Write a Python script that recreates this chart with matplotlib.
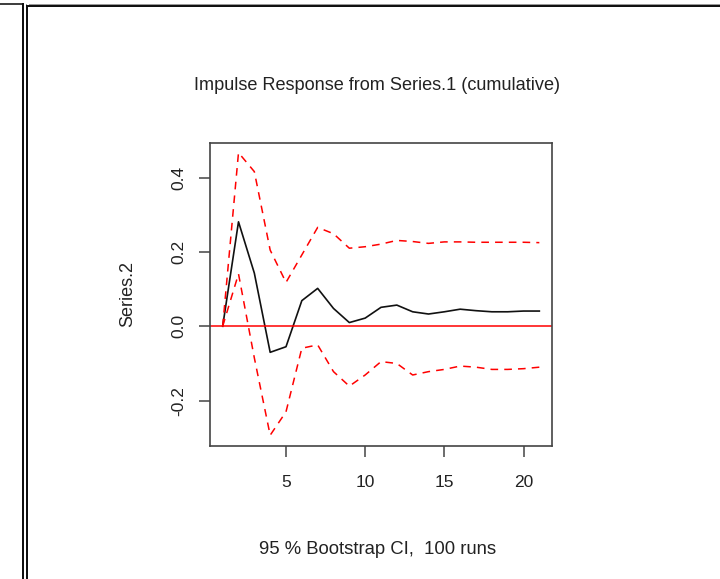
import numpy as np
import matplotlib.pyplot as plt
from matplotlib.lines import Line2D

# steps of the impulse response
steps = list(range(1, 22))

irf = [0.0, 0.281, 0.143, -0.070, -0.055, 0.069, 0.102, 0.048, 0.010, 0.022, 0.051,
       0.057, 0.039, 0.033, 0.039, 0.046, 0.042, 0.039, 0.039, 0.041, 0.041]
upper = [0.0, 0.467, 0.416, 0.205, 0.118, 0.192, 0.266, 0.249, 0.210, 0.214, 0.221,
         0.231, 0.228, 0.223, 0.227, 0.227, 0.226, 0.226, 0.226, 0.226, 0.225]
lower = [0.0, 0.141, -0.085, -0.293, -0.230, -0.059, -0.050, -0.122, -0.161, -0.131, -0.095,
         -0.100, -0.131, -0.122, -0.116, -0.107, -0.110, -0.116, -0.116, -0.114, -0.110]

plt.rcParams['font.family'] = ['Liberation Sans', 'DejaVu Sans']
txt = '#222222'

W, H = 720, 579
fig = plt.figure(figsize=(W / 100, H / 100), dpi=100)

# axes box in pixels: left 210, right 552, top 143, bottom 446
ax = fig.add_axes([210 / W, (H - 446) / H, 342 / W, 303 / H])
ax.plot(steps, irf, color='#111111', lw=1.2)
ax.plot(steps, upper, color='red', lw=1.1, ls=(0, (5, 4)))
ax.plot(steps, lower, color='red', lw=1.1, ls=(0, (5, 4)))
ax.axhline(0, color='red', lw=1.1)

ax.set_xlim(0.2, 21.8)
ax.set_ylim(-0.322, 0.493)
ax.set_xticks([5, 10, 15, 20])
ax.set_yticks([-0.2, 0.0, 0.2, 0.4])
ax.set_yticklabels(['-0.2', '0.0', '0.2', '0.4'])
for s in ax.spines.values():
    s.set_color('#444444')
    s.set_linewidth(1.2)
ax.tick_params(axis='both', colors='#444444', labelcolor=txt, labelsize=12.5,
               length=8, width=1.1)
ax.tick_params(axis='x', pad=13)
ax.tick_params(axis='y', pad=9)
for lab in ax.get_yticklabels():
    lab.set_rotation(90)
    lab.set_va('center')

fig.text(377 / W, 1 - 86 / H, 'Impulse Response from Series.1 (cumulative)',
         ha='center', va='center', fontsize=13.1, color=txt)
fig.text(128 / W, 1 - 294 / H, 'Series.2', rotation=90,
         ha='center', va='center', fontsize=13, color=txt)
fig.text(378 / W, 1 - 550 / H, '95 % Bootstrap CI,  100 runs',
         ha='center', va='center', fontsize=13.3, color=txt)

# window frames from the screenshot
def px(x, y):
    return x / W, 1 - y / H

for (x0, y0, x1, y1, c, w) in [
        (0, 4, 23, 4, '#111111', 1.6),
        (23, 4, 23, H, '#111111', 2.0),
        (25.5, 4, 25.5, H, '#999999', 1.0),
        (27, 6, 27, H, '#111111', 2.0),
        (27, 6, W, 6, '#111111', 2.0),
        (28.5, 4, W, 4, '#999999', 1.0)]:
    a, b = px(x0, y0)
    c2, d = px(x1, y1)
    fig.add_artist(Line2D([a, c2], [b, d], transform=fig.transFigure,
                          color=c, lw=w * 0.72))

fig.savefig('out.png', dpi=100)
